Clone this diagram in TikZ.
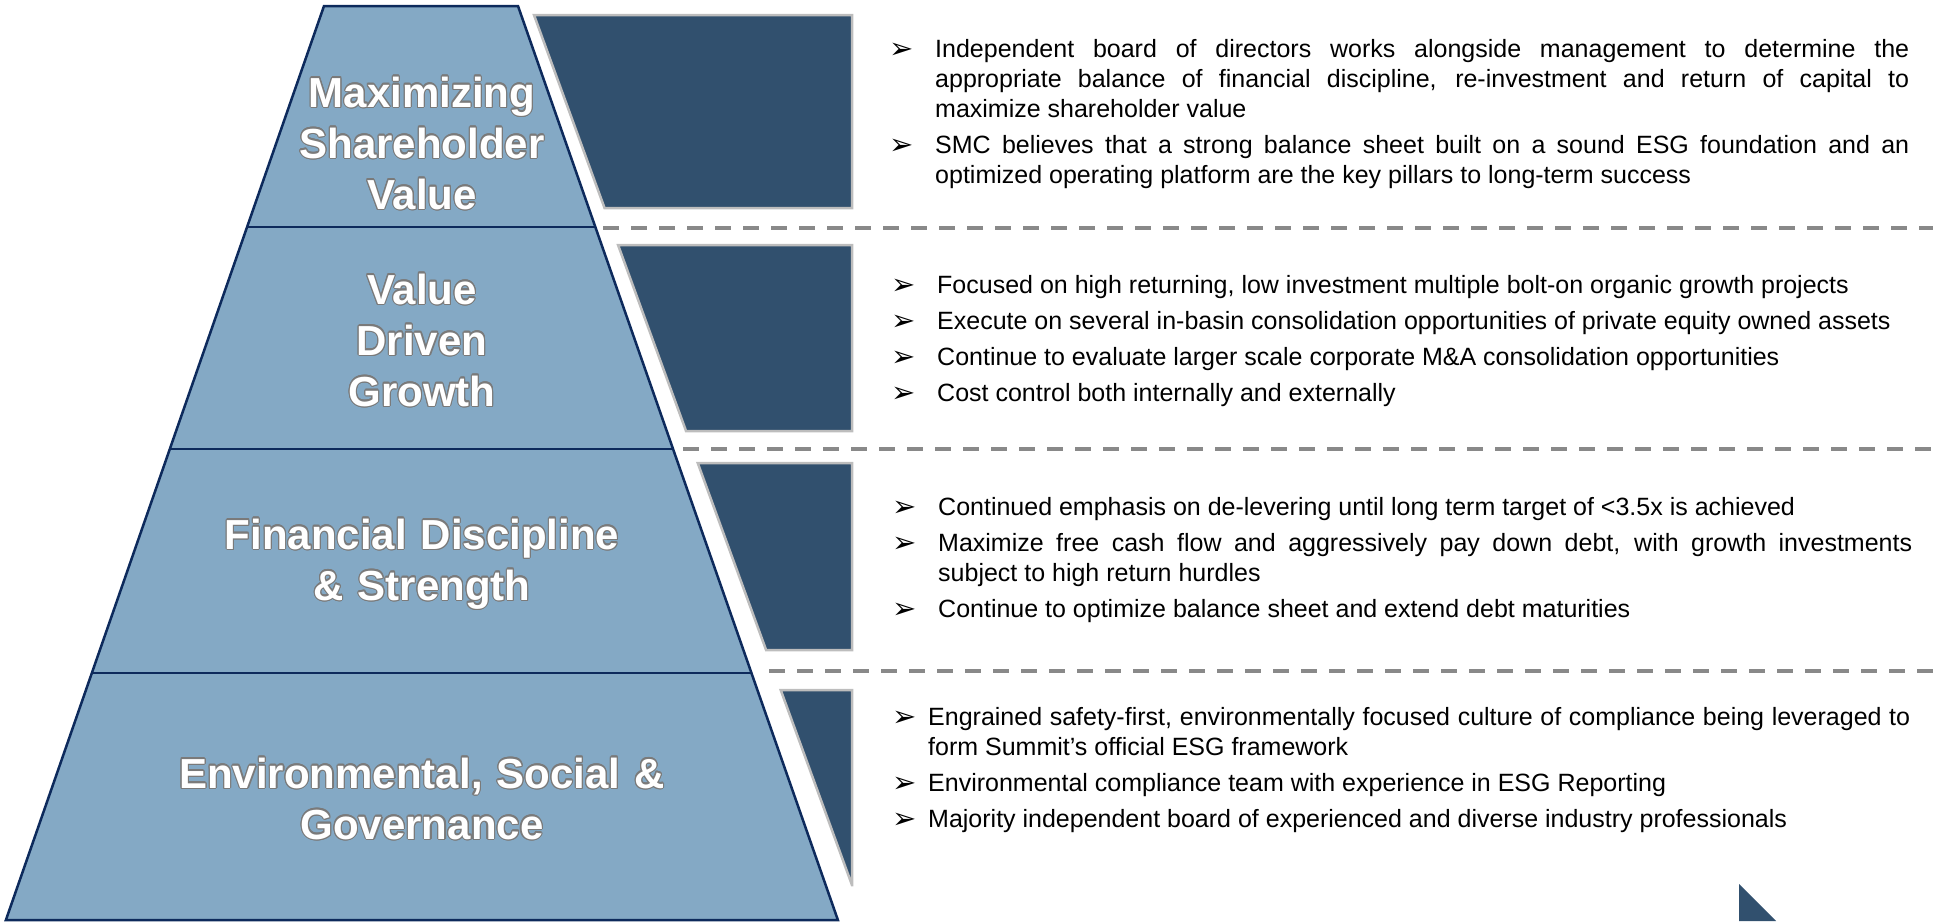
\documentclass[tikz,border=0pt]{standalone}
\usepackage{fontspec}
\setmainfont{Liberation Sans}
\newfontfamily\setafont{DejaVu Sans}
\usepackage[copies]{contour}
\usepackage{tikz}
\usetikzlibrary{positioning}

\definecolor{piramide}{HTML}{84A9C5}
\definecolor{contorno}{HTML}{0D2A5C}
\definecolor{escuro}{HTML}{31506E}
\definecolor{bordaesc}{HTML}{BDBDBD}
\definecolor{tracejado}{HTML}{898989}
\definecolor{sombra}{HTML}{7A7A7A}

\contourlength{1.1pt}
\newcommand{\contornado}[1]{\contour{sombra}{#1}}
% cada topico: seta + recuo pendente (o \par fica no texto)
\newcommand{\topico}[1][46pt]{\setlength{\parskip}{6pt}\hyphenpenalty=10000
  \exhyphenpenalty=10000\hangindent=#1\hangafter=1\noindent
  \makebox[#1][l]{\raisebox{-1pt}{\setafont\fontsize{29}{29}\selectfont ➢}}\ignorespaces}

\begin{document}
\begin{tikzpicture}[x=1pt,y=-1pt,
    rotulo/.style={text width=560pt, align=center, inner sep=0pt, text=white,
      font=\bfseries\fontsize{42}{51}\selectfont},
    bloco/.style={text width=1020pt, align=justify, inner sep=0pt,
      font=\fontsize{25}{30}\selectfont},
    faixa/.style={fill=escuro, draw=bordaesc, line width=2.5pt},
    divisoria/.style={draw=tracejado, line width=4pt, dash pattern=on 16pt off 12pt}]
    \useasboundingbox (0,0) rectangle (1933,921);

    % Piramide
    \filldraw[fill=piramide, draw=contorno, line width=2.5pt]
      (324,6) -- (518,6) -- (837.9,920) -- (5.9,920) -- cycle;
    \draw[contorno, line width=2.5pt] (247.1,227) -- (595.4,227);
    \draw[contorno, line width=2.5pt] (169.8,449) -- (673.1,449);
    \draw[contorno, line width=2.5pt] (91.9,673) -- (751.5,673);

    % Faixas escuras
    \foreach \a/\b in {15/208, 245/431, 463/650, 690/885}
      \filldraw[faixa] ({534+0.3655*(\a-15)},\a) -- (852,\a) -- (852,\b)
        -- ({534+0.3655*(\b-15)},\b) -- cycle;
    \fill[escuro] (1739,884) -- (1739,921) -- (1776,921) -- cycle;

    % Divisorias
    \draw[divisoria] (603,228) -- (1933,228);
    \draw[divisoria] (683,449) -- (1933,449);
    \draw[divisoria] (769,671) -- (1933,671);

    % Rotulos
    \node[rotulo, anchor=base] (valor) at (422,107)
      {\contornado{Maximizing}\\\contornado{Shareholder}\\\contornado{Value}};
    \node[rotulo, anchor=base] (crescimento) at (422,304)
      {\contornado{Value}\\\contornado{Driven}\\\contornado{Growth}};
    \node[rotulo, anchor=base] (disciplina) at (422,549)
      {\contornado{Financial Discipline}\\\contornado{\& Strength}};
    \node[rotulo, anchor=base] (esg) at (422,788)
      {\contornado{Environmental, Social \&}\\\contornado{Governance}};

    % Textos
    \node[bloco, anchor=base west] (topoA) at (889,57) {%
      \topico Independent board of directors works alongside management to determine the\linebreak
        appropriate balance of financial discipline, re-investment and return of capital to\linebreak
        maximize shareholder value
      \par\topico SMC believes that a strong balance sheet built on a sound ESG foundation and an\linebreak
        optimized operating platform are the key pillars to long-term success\par};
    \node[bloco, anchor=base west] (topoB) at (891,293) {%
      \topico Focused on high returning, low investment multiple bolt-on organic growth projects
      \par\topico Execute on several in-basin consolidation opportunities of private equity owned assets
      \par\topico Continue to evaluate larger scale corporate M\&A consolidation opportunities
      \par\topico Cost control both internally and externally\par};
    \node[bloco, anchor=base west] (topoC) at (892,515) {%
      \topico Continued emphasis on de-levering until long term target of <3.5x is achieved
      \par\topico Maximize free cash flow and aggressively pay down debt, with growth investments\linebreak
        subject to high return hurdles
      \par\topico Continue to optimize balance sheet and extend debt maturities\par};
    \node[bloco, anchor=base west, text width=1018pt] (topoD) at (892,725) {%
      \topico[36pt] Engrained safety-first, environmentally focused culture of compliance being leveraged to\linebreak
        form Summit’s official ESG framework
      \par\topico[36pt] Environmental compliance team with experience in ESG Reporting
      \par\topico[36pt] Majority independent board of experienced and diverse industry professionals\par};
\end{tikzpicture}
\end{document}
